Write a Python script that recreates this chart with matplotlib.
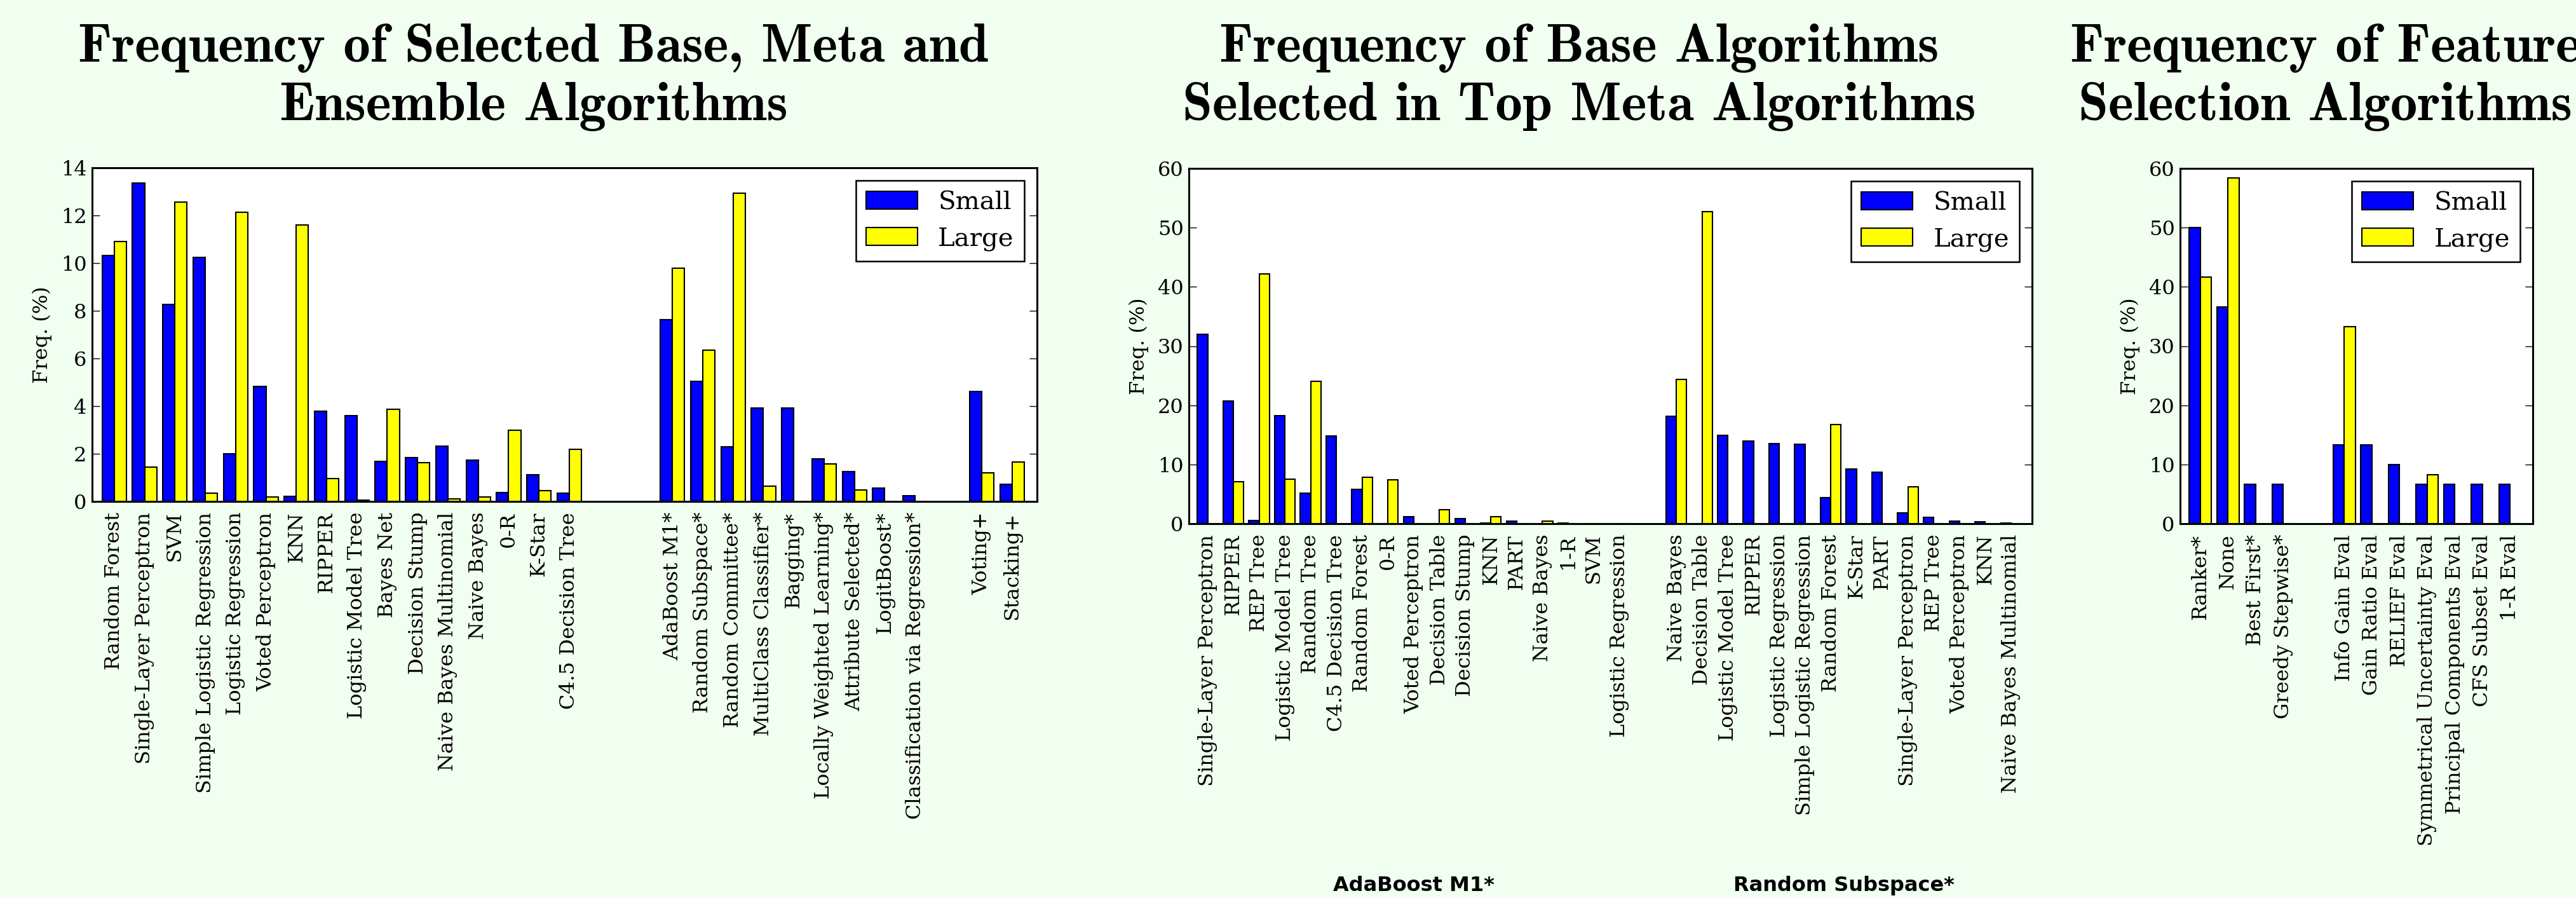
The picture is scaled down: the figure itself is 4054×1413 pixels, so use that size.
import matplotlib
matplotlib.use('Agg')
import matplotlib.pyplot as plt
import numpy as np

# ---- panel 1: selected base / meta / ensemble algorithms ----
base_names = ['Random Forest', 'Single-Layer Perceptron', 'SVM', 'Simple Logistic Regression',
              'Logistic Regression', 'Voted Perceptron', 'KNN', 'RIPPER', 'Logistic Model Tree',
              'Bayes Net', 'Decision Stump', 'Naive Bayes Multinomial', 'Naive Bayes', '0-R',
              'K-Star', 'C4.5 Decision Tree']
base_small = [10.32, 13.36, 8.28, 10.25, 2.01, 4.82, 0.22, 3.78, 3.6, 1.67, 1.84, 2.32, 1.74, 0.38, 1.13, 0.34]
base_large = [10.91, 1.43, 12.57, 0.36, 12.13, 0.19, 11.6, 0.95, 0.05, 3.88, 1.64, 0.1, 0.19, 3.0, 0.46, 2.2]

meta_names = ['AdaBoost M1*', 'Random Subspace*', 'Random Committee*', 'MultiClass Classifier*',
              'Bagging*', 'Locally Weighted Learning*', 'Attribute Selected*', 'LogitBoost*',
              'Classification via Regression*']
meta_small = [7.64, 5.05, 2.3, 3.93, 3.92, 1.8, 1.25, 0.55, 0.25]
meta_large = [9.78, 6.36, 12.93, 0.63, 0.0, 1.58, 0.49, 0.0, 0.0]

ens_names = ['Voting+', 'Stacking+']
ens_small = [4.62, 0.72]
ens_large = [1.2, 1.66]

# ---- panel 2: base algorithms inside the top meta algorithms ----
ada_names = ['Single-Layer Perceptron', 'RIPPER', 'REP Tree', 'Logistic Model Tree', 'Random Tree',
             'C4.5 Decision Tree', 'Random Forest', '0-R', 'Voted Perceptron', 'Decision Table',
             'Decision Stump', 'KNN', 'PART', 'Naive Bayes', '1-R', 'SVM', 'Logistic Regression']
ada_small = [32.0, 20.75, 0.55, 18.3, 5.15, 14.85, 5.75, 0.0, 1.2, 0.0, 0.9, 0.1, 0.45, 0.0, 0.15, 0.0, 0.0]
ada_large = [0.0, 7.1, 42.2, 7.5, 24.0, 0.0, 7.8, 7.4, 0.0, 2.35, 0.0, 1.2, 0.0, 0.4, 0.0, 0.0, 0.0]

rs_names = ['Naive Bayes', 'Decision Table', 'Logistic Model Tree', 'RIPPER', 'Logistic Regression',
            'Simple Logistic Regression', 'Random Forest', 'K-Star', 'PART', 'Single-Layer Perceptron',
            'REP Tree', 'Voted Perceptron', 'KNN', 'Naive Bayes Multinomial']
rs_small = [18.15, 0.0, 14.95, 13.9, 13.55, 13.4, 4.45, 9.25, 8.7, 1.85, 1.05, 0.45, 0.3, 0.15]
rs_large = [24.35, 52.75, 0.0, 0.0, 0.0, 0.0, 16.75, 0.0, 0.0, 6.25, 0.0, 0.0, 0.0, 0.0]

# ---- panel 3: feature selection ----
search_names = ['Ranker*', 'None', 'Best First*', 'Greedy Stepwise*']
search_small = [50.0, 36.65, 6.65, 6.65]
search_large = [41.65, 58.35, 0.0, 0.0]

eval_names = ['Info Gain Eval', 'Gain Ratio Eval', 'RELIEF Eval', 'Symmetrical Uncertainty Eval',
              'Principal Components Eval', 'CFS Subset Eval', '1-R Eval']
eval_small = [13.35, 13.35, 10.0, 6.65, 6.65, 6.65, 6.65]
eval_large = [33.3, 0.0, 0.0, 8.3, 0.0, 0.0, 0.0]

W, H = 4054, 1413
fig = plt.figure(figsize=(W / 100, H / 100), dpi=100, facecolor='honeydew')

tick_fs = 23
width = 0.4


def panel(px, groups, starts, ymax, ystep, title):
    # px = (left, top, right, bottom) in pixels
    l, t, r, b = px
    ax = fig.add_axes([l / W, 1 - b / H, (r - l) / W, (b - t) / H])
    xs, small, large, names = [], [], [], []
    for (n, s, g), st in zip(groups, starts):
        xs += list(st + np.arange(len(n)))
        small += s
        large += g
        names += n
    xs = np.array(xs)
    ax.bar(xs, small, width, align='edge', color='#0000ff', edgecolor='black', linewidth=1.5, label='Small')
    ax.bar(xs + width, large, width, align='edge', color='#ffff00', edgecolor='black', linewidth=1.5, label='Large')
    ax.set_xticks(xs + width)
    ax.set_xticklabels(names, rotation=90, family='DejaVu Serif', fontsize=tick_fs)
    ax.set_xlim(-0.33, xs[-1] + 1.22)
    ax.set_ylim(0, ymax)
    ax.set_yticks(np.arange(0, ymax + 1, ystep))
    ax.tick_params(axis='x', length=0, pad=12)
    ax.tick_params(axis='y', direction='in', left=True, right=True, length=8.5, width=1,
                   labelsize=tick_fs, pad=6)
    for lab in ax.get_yticklabels():
        lab.set_family('DejaVu Serif')
    for sp in ax.spines.values():
        sp.set_linewidth(2.2)
    ax.set_ylabel('Freq. (%)', family='DejaVu Serif', fontsize=tick_fs, labelpad=10)
    leg = ax.legend(loc='upper right', prop={'family': 'DejaVu Serif', 'size': 29},
                    fancybox=False, framealpha=1, edgecolor='black', borderpad=0.4,
                    handletextpad=0.8, labelspacing=0.5, handlelength=2.0, borderaxespad=0.5)
    leg.get_frame().set_linewidth(1.8)
    fig.text(((l + r) / 2 - 49) / W, 1 - 188 / H, title, ha='center', va='baseline',
             multialignment='center', family='cmb10', fontsize=61, linespacing=1.23)
    return ax, xs


panel((145, 264, 1632, 789),
      [(base_names, base_small, base_large), (meta_names, meta_small, meta_large),
       (ens_names, ens_small, ens_large)],
      [0, 18.4, 28.6], 14, 2,
      'Frequency of Selected Base, Meta and\nEnsemble Algorithms')

ax2, xs2 = panel((1871, 265, 3198, 824),
                 [(ada_names, ada_small, ada_large), (rs_names, rs_small, rs_large)],
                 [0, 18.2], 60, 10,
                 'Frequency of Base Algorithms\nSelected in Top Meta Algorithms')

panel((3431, 265, 3986, 824),
      [(search_names, search_small, search_large), (eval_names, eval_small, eval_large)],
      [0, 5.2], 60, 10,
      'Frequency of Feature\nSelection Algorithms')

# group captions under panel 2
n1 = len(ada_names)
for grp, x0, x1 in [('AdaBoost M1*', xs2[0], xs2[n1 - 1]), ('Random Subspace*', xs2[n1], xs2[-1])]:
    xc = (x0 + x1) / 2 + width
    xf = fig.transFigure.inverted().transform(ax2.transData.transform((xc, 0)))[0]
    fig.text(xf, 1 - 1402 / H, grp, ha='center', va='baseline', family='DejaVu Sans',
             weight='bold', fontsize=23)

fig.savefig('out.png', dpi=100, facecolor=fig.get_facecolor())
